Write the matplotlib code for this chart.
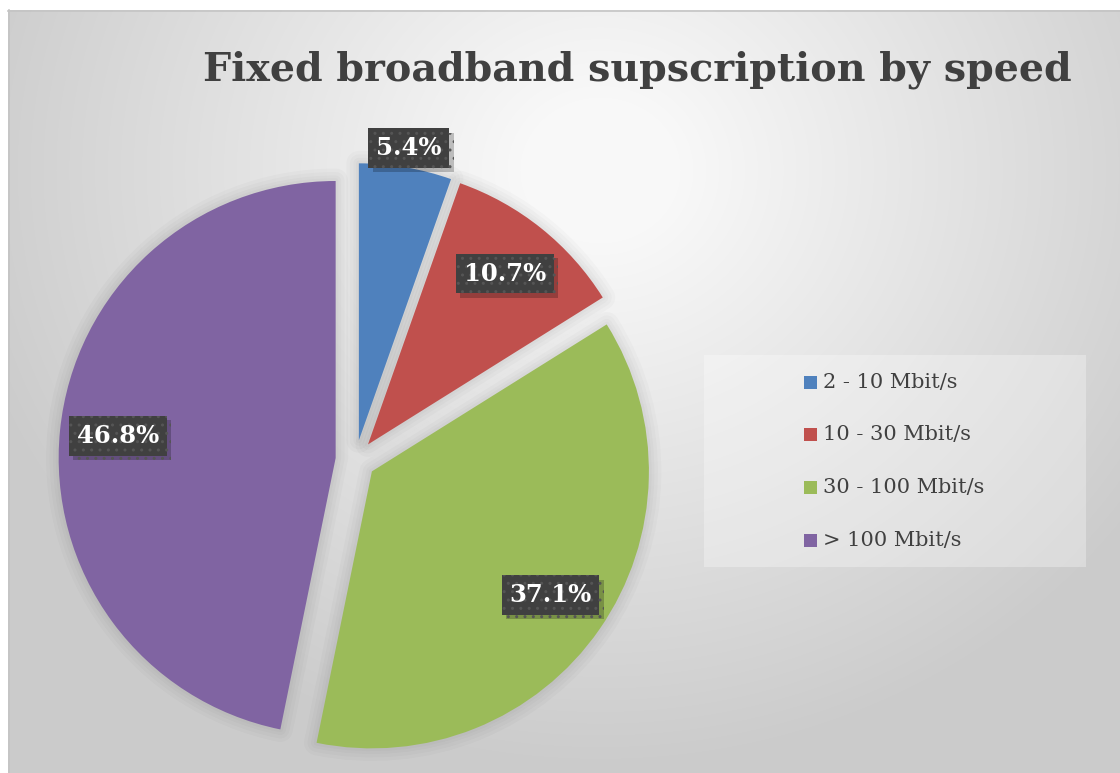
import numpy as np
import matplotlib
matplotlib.use("Agg")
import matplotlib.pyplot as plt
from matplotlib.patches import Wedge, Rectangle
import matplotlib.patheffects as pe

# ---- data ----
categories = ["2 - 10 Mbit/s", "10 - 30 Mbit/s", "30 - 100 Mbit/s", "> 100 Mbit/s"]
shares = [5.4, 10.7, 37.1, 46.8]
pct_labels = ["5.4%", "10.7%", "37.1%", "46.8%"]
colors = ["#4f81bd", "#c0504d", "#9bbb59", "#8064a2"]
title = "Fixed broadband supscription by speed"

W, H = 1120, 773
fig = plt.figure(figsize=(W / 100, H / 100), dpi=100)

# ---- background gradient ----
bg = fig.add_axes([0, 0, 1, 1])
yy, xx = np.mgrid[0:H, 0:W]
d = np.hypot((xx - 600) * 1.0, (yy - 170) * 1.1)
t = np.clip((d - 80) / 580, 0, 1)
val = (248 - (248 - 203) * t) / 255.0
img = np.dstack([val, val, val])
img[:10, :, :] = 1.0
img[:, :8, :] = 1.0
bg.imshow(img, extent=(0, W, H, 0), aspect="auto", interpolation="bilinear")
bg.plot([8, W], [10.5, 10.5], color="#c4c4c4", lw=1.2)
bg.plot([8.5, 8.5], [10, H], color="#c4c4c4", lw=1.2)
bg.set_xlim(0, W)
bg.set_ylim(H, 0)
bg.axis("off")

# ---- pie ----
cx, cy, R = 355.5, 460, 277
half = 320
ax = fig.add_axes([(cx - half) / W, (H - cy - half) / H, 2 * half / W, 2 * half / H])

wedges, _ = ax.pie(shares, colors=colors, startangle=90, counterclock=False,
                   explode=[0.072] * 4, radius=1.0,
                   wedgeprops=dict(linewidth=0))
lim = half / R
ax.set_xlim(-lim, lim)
ax.set_ylim(-lim, lim)
ax.axis("off")

for w in wedges:
    w.set_zorder(3)
    for lw in [18, 13, 8, 4]:
        sh = Wedge(w.center, w.r, w.theta1, w.theta2, facecolor="none",
                   edgecolor=(0, 0, 0, 0.02), lw=lw, joinstyle="round", zorder=1)
        ax.add_patch(sh)

# ---- data labels ----
label_dist = [1.07, 0.79, 0.785, 0.79]
for w, lab, dist in zip(wedges, pct_labels, label_dist):
    mid = np.deg2rad((w.theta1 + w.theta2) / 2)
    x = w.center[0] + dist * np.cos(mid)
    y = w.center[1] + dist * np.sin(mid)
    t_ = ax.text(x, y, lab, ha="center", va="center", color="white",
                 fontsize=17.5, fontweight="bold", family="DejaVu Serif", zorder=5,
                 bbox=dict(boxstyle="square,pad=0.32", fc="#404040", ec="#555555",
                           lw=0, hatch=".."))
    t_.get_bbox_patch().set_path_effects([
        pe.withSimplePatchShadow(offset=(3, -3), shadow_rgbFace="k", alpha=0.22),
        pe.Normal()])

# ---- title ----
fig.text(637 / W, 1 - 70 / H, title, ha="center", va="center", fontsize=28.5,
         fontweight="bold", family="DejaVu Serif", color="#404040")

# ---- legend ----
leg_box = Rectangle((704, 355), 382, 212, transform=bg.transData,
                    facecolor="white", alpha=0.3, edgecolor="none", zorder=2)
bg.add_patch(leg_box)
for i, (lab, col) in enumerate(zip(categories, colors)):
    yc = 382 + i * 52.7
    bg.add_patch(Rectangle((804, yc - 6.5), 13, 13, facecolor=col, edgecolor="none", zorder=3))
    bg.text(823, yc, lab, ha="left", va="center", fontsize=15, family="DejaVu Serif",
            color="#404040", zorder=3)

fig.savefig("out.png", dpi=100)
